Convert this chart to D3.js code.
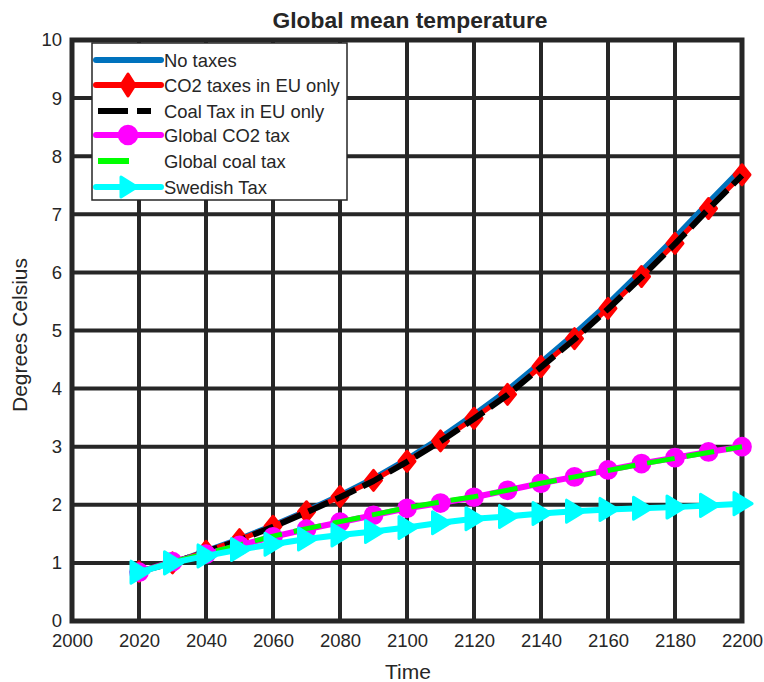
<!DOCTYPE html>
<html><head><meta charset="utf-8">
<script src="https://cdn.jsdelivr.net/npm/d3@7"></script>
<style>body{margin:0;background:#fff}svg{display:block}text{font-family:"Liberation Sans",Arial,sans-serif;fill:#262626}</style>
</head><body><svg id="c" width="764" height="682"></svg>
<script>
const years = [2020,2030,2040,2050,2060,2070,2080,2090,2100,2110,2120,2130,2140,2150,2160,2170,2180,2190,2200];
const noTaxes   = [0.85,1.00,1.21,1.42,1.65,1.90,2.17,2.46,2.79,3.16,3.56,3.98,4.46,4.95,5.47,6.03,6.61,7.21,7.80];
const co2EU     = [0.85,1.00,1.20,1.40,1.63,1.88,2.14,2.42,2.75,3.10,3.49,3.90,4.38,4.86,5.38,5.93,6.50,7.10,7.68];
const coalEU    = [0.85,1.00,1.19,1.39,1.62,1.87,2.13,2.41,2.74,3.09,3.48,3.89,4.37,4.85,5.37,5.92,6.49,7.09,7.67];
const globalCO2 = [0.84,1.02,1.15,1.30,1.45,1.58,1.70,1.82,1.94,2.03,2.13,2.25,2.37,2.48,2.60,2.71,2.81,2.91,3.00];
const globalCoal= [0.84,1.02,1.16,1.31,1.46,1.59,1.71,1.83,1.95,2.05,2.14,2.25,2.37,2.48,2.59,2.70,2.80,2.90,3.00];
const swedish   = [0.84,1.00,1.12,1.23,1.32,1.41,1.48,1.54,1.61,1.69,1.76,1.80,1.85,1.89,1.92,1.94,1.96,1.99,2.02];
const xTicks = [2000,2020,2040,2060,2080,2100,2120,2140,2160,2180,2200];
const yTicks = [0,1,2,3,4,5,6,7,8,9,10];
const seriesNames = ["No taxes","CO2 taxes in EU only","Coal Tax in EU only","Global CO2 tax","Global coal tax","Swedish Tax"];

const svg = d3.select("#c");
const x = d3.scaleLinear().domain([2000,2200]).range([72,742]);
const y = d3.scaleLinear().domain([0,10]).range([621,40]);
const dark = "#262626";

// grid
svg.append("g").selectAll("line").data(xTicks).join("line")
  .attr("x1",d=>x(d)).attr("x2",d=>x(d)).attr("y1",y(0)).attr("y2",y(10))
  .attr("stroke",dark).attr("stroke-width",4);
svg.append("g").selectAll("line").data(yTicks).join("line")
  .attr("y1",d=>y(d)).attr("y2",d=>y(d)).attr("x1",x(2000)).attr("x2",x(2200))
  .attr("stroke",dark).attr("stroke-width",4);

// axes labels
const xa = svg.append("g").attr("transform",`translate(0,${y(0)})`)
  .call(d3.axisBottom(x).tickValues(xTicks).tickFormat(d3.format("d")).tickSize(0).tickPadding(13));
xa.select(".domain").remove();
xa.selectAll("text").attr("font-size",18.5).attr("fill",dark).style("font-family","Liberation Sans, Arial");
const ya = svg.append("g").attr("transform",`translate(${x(2000)},0)`)
  .call(d3.axisLeft(y).tickValues(yTicks).tickFormat(d3.format("d")).tickSize(0).tickPadding(10));
ya.select(".domain").remove();
ya.selectAll("text").attr("font-size",18.5).attr("fill",dark).style("font-family","Liberation Sans, Arial");

// box
svg.append("rect").attr("x",x(2000)).attr("y",y(10)).attr("width",x(2200)-x(2000)).attr("height",y(0)-y(10))
  .attr("fill","none").attr("stroke",dark).attr("stroke-width",5);

const line = vals => d3.line().x((d,i)=>x(years[i])).y(d=>y(d))(vals);
const g = svg.append("g");
function drawLine(vals,color,w,dash){
  g.append("path").attr("d",line(vals)).attr("fill","none").attr("stroke",color).attr("stroke-width",w)
   .attr("stroke-linejoin","round").attr("stroke-dasharray",dash||null);
}
const diamond = "M0,-10L8,0L0,10L-8,0Z";
const triangle = "M10,0L-8,-11L-8,11Z";
function drawMarkers(vals,color,shape){
  const sel = g.append("g").selectAll("path").data(vals).join("path")
   .attr("transform",(d,i)=>`translate(${x(years[i])},${y(d)})`)
   .attr("fill",color).attr("stroke",color).attr("stroke-width",3).attr("stroke-linejoin","round");
  if(shape==="circle") sel.attr("d",d3.symbol(d3.symbolCircle,220)());
  else sel.attr("d",shape);
}
drawLine(noTaxes,"#0072BD",5);
drawLine(co2EU,"#FF0000",5); drawMarkers(co2EU,"#FF0000",diamond);
drawLine(coalEU,"#000000",6,"22,8");
drawLine(globalCO2,"#FF00FF",6); drawMarkers(globalCO2,"#FF00FF","circle");
drawLine(globalCoal,"#00FF00",5,"28,12");
drawLine(swedish,"#00FFFF",6); drawMarkers(swedish,"#00FFFF",triangle);

// title & labels
svg.append("text").attr("x",410).attr("y",28).attr("text-anchor","middle").attr("font-size",22.8).attr("font-weight","bold").attr("fill","#000").text("Global mean temperature");
svg.append("text").attr("x",408).attr("y",679).attr("text-anchor","middle").attr("font-size",21).text("Time");
svg.append("text").attr("transform","translate(27,335) rotate(-90)").attr("text-anchor","middle").attr("font-size",21).text("Degrees Celsius");

// legend
const lg = svg.append("g");
lg.append("rect").attr("x",92).attr("y",43).attr("width",255).attr("height",157).attr("fill","#fff").attr("stroke",dark).attr("stroke-width",1.5);
const rowsY = [60,85,111,135,161,187];
const colors = ["#0072BD","#FF0000","#000000","#FF00FF","#00FF00","#00FFFF"];
rowsY.forEach((ry,i)=>{
  if(i===2){
    lg.append("line").attr("x1",98).attr("x2",128).attr("y1",ry).attr("y2",ry).attr("stroke","#000").attr("stroke-width",6);
    lg.append("line").attr("x1",137).attr("x2",151).attr("y1",ry).attr("y2",ry).attr("stroke","#000").attr("stroke-width",6);
  } else if(i===4){
    lg.append("line").attr("x1",98).attr("x2",129).attr("y1",ry).attr("y2",ry).attr("stroke","#00FF00").attr("stroke-width",6);
  } else {
    lg.append("line").attr("x1",96).attr("x2",161).attr("y1",ry).attr("y2",ry).attr("stroke",colors[i]).attr("stroke-width",6).attr("stroke-linecap","round");
  }
  const mx=128;
  if(i===1) lg.append("path").attr("d","M0,-11L7,0L0,11L-7,0Z").attr("transform",`translate(${mx},${ry})`).attr("fill",colors[i]).attr("stroke",colors[i]).attr("stroke-width",3).attr("stroke-linejoin","round");
  if(i===3) lg.append("path").attr("d",d3.symbol(d3.symbolCircle,240)()).attr("transform",`translate(${mx},${ry})`).attr("fill",colors[i]).attr("stroke",colors[i]).attr("stroke-width",3);
  if(i===5) lg.append("path").attr("d","M9,0L-7,-10L-7,10Z").attr("transform",`translate(${mx},${ry})`).attr("fill",colors[i]).attr("stroke",colors[i]).attr("stroke-width",3).attr("stroke-linejoin","round");
  lg.append("text").attr("x",164).attr("y",ry+6.5).attr("font-size",18.4).text(seriesNames[i]);
});
</script></body></html>
